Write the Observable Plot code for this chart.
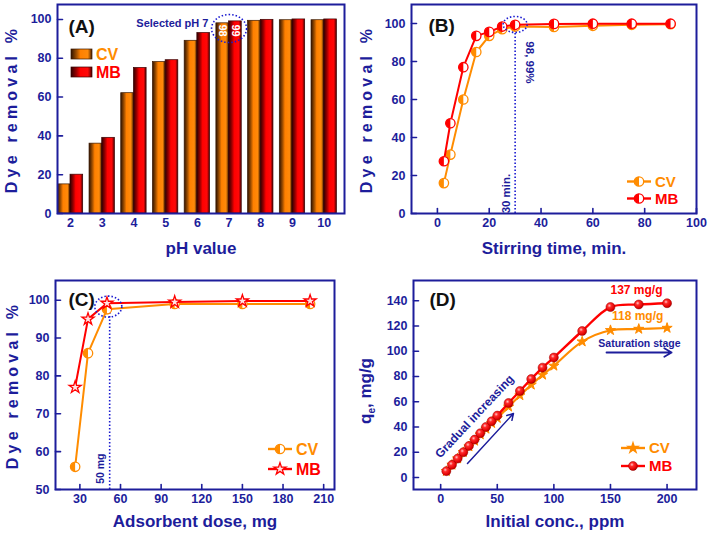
<!DOCTYPE html>
<html>
<head>
<meta charset="utf-8">
<script src="https://cdn.jsdelivr.net/npm/d3@7"></script>
<script src="https://cdn.jsdelivr.net/npm/@observablehq/plot@0.6"></script>
<style>
  html, body { margin: 0; padding: 0; background: #fff; }
  #wrap { position: relative; width: 708px; height: 533px; overflow: hidden; background: #fff; }
  .panel { position: absolute; width: 354px; }
  .panel svg { overflow: visible; display: block; }
</style>
</head>
<body>
<svg width="0" height="0" style="position:absolute">
  <defs>
    <linearGradient id="gCV" x1="0" x2="1" y1="0" y2="0">
      <stop offset="0" stop-color="#2e1200"/>
      <stop offset="0.25" stop-color="#9a4c00"/>
      <stop offset="0.45" stop-color="#ff8000"/>
      <stop offset="0.8" stop-color="#ff8a0a"/>
      <stop offset="1" stop-color="#4a2000"/>
    </linearGradient>
    <linearGradient id="gMB" x1="0" x2="1" y1="0" y2="0">
      <stop offset="0" stop-color="#2e0000"/>
      <stop offset="0.25" stop-color="#960000"/>
      <stop offset="0.45" stop-color="#ff0000"/>
      <stop offset="0.8" stop-color="#ff0808"/>
      <stop offset="1" stop-color="#4a0000"/>
    </linearGradient>
    <radialGradient id="ball" cx="0.38" cy="0.35" r="0.7">
      <stop offset="0" stop-color="#ffc8c8"/>
      <stop offset="0.3" stop-color="#ff2a2a"/>
      <stop offset="0.8" stop-color="#dd0000"/>
      <stop offset="1" stop-color="#900000"/>
    </radialGradient>
  </defs>
</svg>
<div id="wrap">
  <div class="panel" id="pA" style="left:0;top:0"></div>
  <div class="panel" id="pB" style="left:354px;top:0"></div>
  <div class="panel" id="pC" style="left:0;top:266px"></div>
  <div class="panel" id="pD" style="left:354px;top:266px"></div>
</div>
<script>
const FONT = '"Liberation Sans", Arial, Helvetica, sans-serif';
const NAVY = "#1d1d9b";
const DOTBLUE = "#1a1ad0";
const ORANGE = "#ff8c00";
const RED = "#ff0000";

// ---------- (A) pH ----------
const pH = [2, 3, 4, 5, 6, 7, 8, 9, 10];
const cvByPH = [15, 36, 62, 78, 89, 98, 99.3, 99.6, 99.6];
const mbByPH = [20, 39, 75, 79, 93, 99, 99.8, 100, 100];
const yTicksA = [0, 20, 40, 60, 80, 100];
const barLabelsA = [{x: 6.8, y: 94.3, t: "98"}, {x: 7.19, y: 94.3, t: "99"}];
const ringA = [{x: 7, y: 95.3}];
const noteA = [{x: 6.35, y: 97.9, t: "Selected pH 7"}];

// ---------- (B) stirring time ----------
const stirTime = [2.5, 5, 10, 15, 20, 25, 30, 45, 60, 75, 90];
const cvByTime = [16, 31, 60, 85, 93.5, 97, 98.4, 98.2, 98.8, 99.3, 99.6];
const mbByTime = [27.5, 47.5, 77, 93.5, 95.6, 98.4, 99.3, 99.8, 99.9, 99.9, 99.9];
const xTicksB = [0, 20, 40, 60, 80, 100];
const yTicksB = [0, 20, 40, 60, 80, 100];
const vlineB = [{x: 30, y1: 0, y2: 99}];
const ringB = [{x: 30, y: 99.5}];
const notesB = [{x: 26.7, y: 10.5, t: "30 min.", r: -90}, {x: 35.5, y: 79.5, t: "98, 99%", r: 90}];

// ---------- (C) adsorbent dose ----------
const dose = [26.5, 36, 50, 100, 150, 200];
const cvByDose = [56, 86, 97.6, 99, 99, 99];
const mbByDose = [77, 95, 99.2, 99.5, 99.8, 99.8];
const xTicksC = [30, 60, 90, 120, 150, 180, 210];
const yTicksC = [50, 60, 70, 80, 90, 100];
const vlineC = [{x: 52, y1: 50, y2: 98.8}];
const ringC = [{x: 51, y: 98.3}];
const noteC = [{x: 45.2, y: 55.5, t: "50 mg"}];

// ---------- (D) initial concentration ----------
const conc = [5, 10, 15, 20, 25, 30, 35, 40, 45, 50, 60, 70, 80, 90, 100, 125, 150, 175, 200];
const mbQe = [5, 10, 15, 20, 25, 30, 35, 40, 44.5, 49, 59, 68.5, 78, 87, 95, 116, 135, 137, 138];
const cvQe = [5, 10, 15, 20, 24.5, 29, 34, 38.5, 43, 47, 56, 65, 73.4, 81.3, 88.4, 107.6, 116.6, 117.6, 118.4];
const xTicksD = [0, 50, 100, 150, 200];
const yTicksD = [0, 20, 40, 60, 80, 100, 120, 140];
const capD = [{x: 173, y: 148, t: "137 mg/g", c: RED}, {x: 174, y: 127.5, t: "118 mg/g", c: ORANGE}];
const satD = [{x: 175.6, y: 106.1, t: "Saturation stage"}];
const satArrow = [{x1: 146.5, y1: 99, x2: 204, y2: 99}];
const gradD = [{x: 29.9, y: 48.3, t: "Gradual increasing"}];
const gradArrow = [{x1: 23.7, y1: 11.1, x2: 64.3, y2: 50.7}];

const seriesNames = ["CV", "MB"];

// ---------- helpers ----------
const rows = (xs, ys) => xs.map((x, i) => ({x, y: ys[i]}));
const halfLeft = {draw(ctx, size) { const r = Math.sqrt(size / Math.PI); ctx.moveTo(0, -r); ctx.arc(0, 0, r, -Math.PI / 2, Math.PI / 2, true); ctx.closePath(); }};
function ellipseSymbol(rx, ry) {
  const k = 0.5523;
  return {draw(ctx) {
    ctx.moveTo(rx, 0);
    ctx.bezierCurveTo(rx, ry * k, rx * k, ry, 0, ry);
    ctx.bezierCurveTo(-rx * k, ry, -rx, ry * k, -rx, 0);
    ctx.bezierCurveTo(-rx, -ry * k, -rx * k, -ry, 0, -ry);
    ctx.bezierCurveTo(rx * k, -ry, rx, -ry * k, rx, 0);
    ctx.closePath();
  }};
}
const tickShape = {draw(ctx, l) { ctx.moveTo(0, 0); ctx.lineTo(0, -l); }};

function axisMarks(xTicks, yTicks, showXTicks = true) {
  return [
    Plot.axisX({ticks: xTicks, tickSize: 0, tickPadding: 5, fontSize: 12.5, fontWeight: "bold", fill: NAVY, label: null, tickFormat: d => String(d)}),
    Plot.axisY({ticks: yTicks, tickSize: 0, tickPadding: 6, fontSize: 12.5, fontWeight: "bold", fill: NAVY, label: null, tickFormat: d => String(d)}),
    showXTicks ? Plot.vector(xTicks, {x: d => d, frameAnchor: "bottom", length: 5, anchor: "start", shape: tickShape, stroke: NAVY, strokeWidth: 1.6}) : null,
    Plot.vector(yTicks, {y: d => d, frameAnchor: "left", length: 5, rotate: 90, anchor: "start", shape: tickShape, stroke: NAVY, strokeWidth: 1.6}),
    Plot.frame({stroke: NAVY, strokeWidth: 2})
  ].filter(Boolean);
}
function titleMarks(xTitle, dyX, yTitle, dxY, panelTag, tagDx, tagDy) {
  const m = [
    Plot.text([xTitle], {text: d => d, frameAnchor: "bottom", textAnchor: "middle", lineAnchor: "middle", dy: dyX, fontSize: 17, fontWeight: "bold", fill: NAVY}),
    Plot.text([panelTag], {text: d => d, frameAnchor: "top-left", textAnchor: "start", lineAnchor: "middle", dx: tagDx, dy: tagDy, fontSize: 19, fontWeight: "bold", fill: "#111"})
  ];
  if (yTitle) m.push(Plot.text([yTitle], {text: d => d, frameAnchor: "left", textAnchor: "middle", lineAnchor: "middle", rotate: -90, dx: dxY, fontSize: 16, fontWeight: "bold", fill: NAVY}));
  return m;
}
function spaceYTitle(svg) {
  d3.select(svg).selectAll("text").filter(function() { return this.textContent === "Dye removal %"; }).style("letter-spacing", "4.2px");
}
function baseOpts(m) {
  return {width: 354, height: 266, marginLeft: m[0], marginRight: m[1], marginTop: m[2], marginBottom: m[3],
    style: {fontFamily: FONT, color: NAVY, background: "transparent", overflow: "visible"}};
}
function sym(g, type, r, cx, cy) {
  return g.append("path").attr("d", d3.symbol(type, Math.PI * r * r)()).attr("transform", `translate(${cx},${cy})`);
}
function lineLegend(svg, items, x0, y0, gap, fontSize) {
  const g = d3.select(svg).append("g").attr("font-family", FONT).attr("font-weight", "bold").attr("font-size", fontSize).attr("text-anchor", "start");
  items.forEach((it, i) => {
    const y = y0 + i * gap;
    g.append("line").attr("x1", x0).attr("x2", x0 + 24).attr("y1", y).attr("y2", y).attr("stroke", it.color).attr("stroke-width", 2.4);
    it.marker(g, x0 + 12, y);
    g.append("text").attr("x", x0 + 28).attr("y", y).attr("dy", "0.36em").attr("text-anchor", "start").attr("fill", it.color).text(it.label);
  });
}
const halfMarker = (color, r) => (g, cx, cy) => {
  g.append("circle").attr("cx", cx).attr("cy", cy).attr("r", r).attr("fill", "white").attr("stroke", color).attr("stroke-width", 1.3);
  sym(g, halfLeft, r, cx, cy).attr("fill", color);
};
const starMarker = (color, fill, r) => (g, cx, cy) => sym(g, d3.symbolStar, r, cx, cy).attr("fill", fill).attr("stroke", color).attr("stroke-width", 1.3);
const ballMarker = (r) => (g, cx, cy) => g.append("circle").attr("cx", cx).attr("cy", cy).attr("r", r).attr("fill", "url(#ball)").attr("stroke", "#a00000").attr("stroke-width", 0.5);

// ---------- Panel A ----------
const barsCV = pH.map((p, i) => ({p, v: cvByPH[i]}));
const barsMB = pH.map((p, i) => ({p, v: mbByPH[i]}));
const BW = 0.4;
const svgA = Plot.plot({
  ...baseOpts([57, 10, 4, 53]),
  x: {domain: [1.59, 10.64]},
  y: {domain: [0, 107.7]},
  marks: [
    Plot.rect(barsCV, {x1: d => d.p - BW, x2: d => d.p, y1: 0, y2: "v", fill: "url(#gCV)", stroke: "#3a1800", strokeWidth: 0.7}),
    Plot.rect(barsMB, {x1: d => d.p, x2: d => d.p + BW, y1: 0, y2: "v", fill: "url(#gMB)", stroke: "#3a0000", strokeWidth: 0.7}),
    Plot.text(barLabelsA, {x: "x", y: "y", text: "t", rotate: 90, fill: "white", fontSize: 11, fontWeight: "bold"}),
    Plot.dot(ringA, {x: "x", y: "y", symbol: ellipseSymbol(17.5, 14), fill: "none", stroke: DOTBLUE, strokeWidth: 1.6, strokeDasharray: "1.5,2"}),
    Plot.text(noteA, {x: "x", y: "y", text: "t", textAnchor: "end", fontSize: 11, fontWeight: "bold", fill: NAVY}),
    ...titleMarks("pH value", 35, "Dye removal %", -46, "(A)", 11, 22),
    ...axisMarks(pH, yTicksA, false)
  ]
});
document.getElementById("pA").append(svgA);
spaceYTitle(svgA);
{
  const g = d3.select(svgA).append("g").attr("font-family", FONT).attr("font-weight", "bold").attr("font-size", 16).attr("text-anchor", "start");
  const fills = ["url(#gCV)", "url(#gMB)"], cols = [ORANGE, RED], strokes = ["#3a1800", "#3a0000"];
  seriesNames.forEach((s, i) => {
    const y = 49 + i * 18;
    g.append("rect").attr("x", 71).attr("y", y).attr("width", 21).attr("height", 10).attr("fill", fills[i]).attr("stroke", strokes[i]).attr("stroke-width", 0.7);
    g.append("text").attr("x", 96).attr("y", y + 5).attr("dy", "0.36em").attr("text-anchor", "start").attr("fill", cols[i]).text(s);
  });
}

// ---------- Panel B ----------
const cvB = rows(stirTime, cvByTime), mbB = rows(stirTime, mbByTime);
const svgB = Plot.plot({
  ...baseOpts([57, 12, 4, 53]),
  x: {domain: [-10, 100]},
  y: {domain: [0, 110]},
  marks: [
    Plot.ruleX(vlineB, {x: "x", y1: "y1", y2: "y2", stroke: DOTBLUE, strokeWidth: 1.6, strokeDasharray: "1.5,2"}),
    Plot.line(cvB, {x: "x", y: "y", stroke: ORANGE, strokeWidth: 2}),
    Plot.dot(cvB, {x: "x", y: "y", r: 4.7, fill: "white", stroke: ORANGE, strokeWidth: 1.3}),
    Plot.dot(cvB, {x: "x", y: "y", r: 4.7, symbol: halfLeft, fill: ORANGE}),
    Plot.line(mbB, {x: "x", y: "y", stroke: RED, strokeWidth: 2}),
    Plot.dot(mbB, {x: "x", y: "y", r: 4.7, fill: "white", stroke: RED, strokeWidth: 1.3}),
    Plot.dot(mbB, {x: "x", y: "y", r: 4.7, symbol: halfLeft, fill: RED}),
    Plot.dot(ringB, {x: "x", y: "y", symbol: ellipseSymbol(12, 8), fill: "none", stroke: DOTBLUE, strokeWidth: 1.6, strokeDasharray: "1.5,2"}),
    Plot.text(notesB, {x: "x", y: "y", text: "t", rotate: d => d.r, fontSize: 11.5, fontWeight: "bold", fill: NAVY}),
    ...titleMarks("Stirring time, min.", 35, "Dye removal %", -45, "(B)", 17, 21),
    ...axisMarks(xTicksB, yTicksB)
  ]
});
document.getElementById("pB").append(svgB);
spaceYTitle(svgB);
lineLegend(svgB, [
  {label: seriesNames[0], color: ORANGE, marker: halfMarker(ORANGE, 4.7)},
  {label: seriesNames[1], color: RED, marker: halfMarker(RED, 4.7)}
], 273, 181.5, 17, 15);

// ---------- Panel C ----------
const cvC = rows(dose, cvByDose), mbC = rows(dose, mbByDose);
const svgC = Plot.plot({
  ...baseOpts([55, 20, 14, 43]),
  x: {domain: [12, 218]},
  y: {domain: [50, 105.2]},
  marks: [
    Plot.ruleX(vlineC, {x: "x", y1: "y1", y2: "y2", stroke: DOTBLUE, strokeWidth: 1.6, strokeDasharray: "1.5,2"}),
    Plot.line(cvC, {x: "x", y: "y", stroke: ORANGE, strokeWidth: 2}),
    Plot.dot(cvC, {x: "x", y: "y", r: 4.7, fill: "white", stroke: ORANGE, strokeWidth: 1.3}),
    Plot.dot(cvC, {x: "x", y: "y", r: 4.7, symbol: halfLeft, fill: ORANGE}),
    Plot.line(mbC, {x: "x", y: "y", stroke: RED, strokeWidth: 2}),
    Plot.dot(mbC, {x: "x", y: "y", r: 3.8, symbol: "star", fill: "#ffe4e4", stroke: RED, strokeWidth: 1.3}),
    Plot.dot(ringC, {x: "x", y: "y", symbol: ellipseSymbol(13.5, 10.5), fill: "none", stroke: DOTBLUE, strokeWidth: 1.6, strokeDasharray: "1.5,2"}),
    Plot.text(noteC, {x: "x", y: "y", text: "t", rotate: -90, fontSize: 10.5, fontWeight: "bold", fill: NAVY}),
    ...titleMarks("Adsorbent dose, mg", 32, "Dye removal %", -43, "(C)", 13, 19),
    ...axisMarks(xTicksC, yTicksC)
  ]
});
document.getElementById("pC").append(svgC);
spaceYTitle(svgC);
lineLegend(svgC, [
  {label: seriesNames[0], color: ORANGE, marker: halfMarker(ORANGE, 4.7)},
  {label: seriesNames[1], color: RED, marker: starMarker(RED, "#ffe4e4", 3.8)}
], 268, 183, 20, 16);

// ---------- Panel D ----------
const cvD = rows(conc, cvQe), mbD = rows(conc, mbQe);
const svgD = Plot.plot({
  ...baseOpts([59, 12, 14, 43]),
  x: {domain: [-24, 226]},
  y: {domain: [-9.5, 156]},
  marks: [
    Plot.line(cvD, {x: "x", y: "y", curve: "catmull-rom", stroke: ORANGE, strokeWidth: 2.2}),
    Plot.dot(cvD, {x: "x", y: "y", r: 3.2, symbol: "star", fill: ORANGE, stroke: ORANGE, strokeWidth: 1}),
    Plot.line(mbD, {x: "x", y: "y", curve: "catmull-rom", stroke: RED, strokeWidth: 2.4}),
    Plot.dot(mbD, {x: "x", y: "y", r: 4.5, fill: "url(#ball)", stroke: "#a00000", strokeWidth: 0.5}),
    Plot.text(capD, {x: "x", y: "y", text: "t", fill: d => d.c, fontSize: 12, fontWeight: "bold"}),
    Plot.text(satD, {x: "x", y: "y", text: "t", fill: NAVY, fontSize: 10.5, fontWeight: "bold"}),
    Plot.arrow(satArrow, {x1: "x1", y1: "y1", x2: "x2", y2: "y2", stroke: NAVY, strokeWidth: 1.8, headLength: 7}),
    Plot.text(gradD, {x: "x", y: "y", text: "t", rotate: -47, fill: NAVY, fontSize: 12, fontWeight: "bold"}),
    Plot.arrow(gradArrow, {x1: "x1", y1: "y1", x2: "x2", y2: "y2", stroke: NAVY, strokeWidth: 1.5, headLength: 7}),
    ...titleMarks("Initial conc., ppm", 32, null, 0, "(D)", 16, 19),
    ...axisMarks(xTicksD, yTicksD)
  ]
});
document.getElementById("pD").append(svgD);
{
  const t = d3.select(svgD).append("text")
    .attr("transform", "translate(17,125) rotate(-90)")
    .attr("text-anchor", "middle").attr("fill", NAVY).attr("font-family", FONT)
    .attr("font-size", 17).attr("font-weight", "bold");
  t.append("tspan").text("q");
  t.append("tspan").attr("font-size", 10).attr("dy", 4).text("e");
  t.append("tspan").attr("dy", -4).text(", mg/g");
}
lineLegend(svgD, [
  {label: seriesNames[0], color: ORANGE, marker: starMarker(ORANGE, ORANGE, 3.2)},
  {label: seriesNames[1], color: RED, marker: ballMarker(4.5)}
], 267, 182, 18, 15);
</script>
</body>
</html>
